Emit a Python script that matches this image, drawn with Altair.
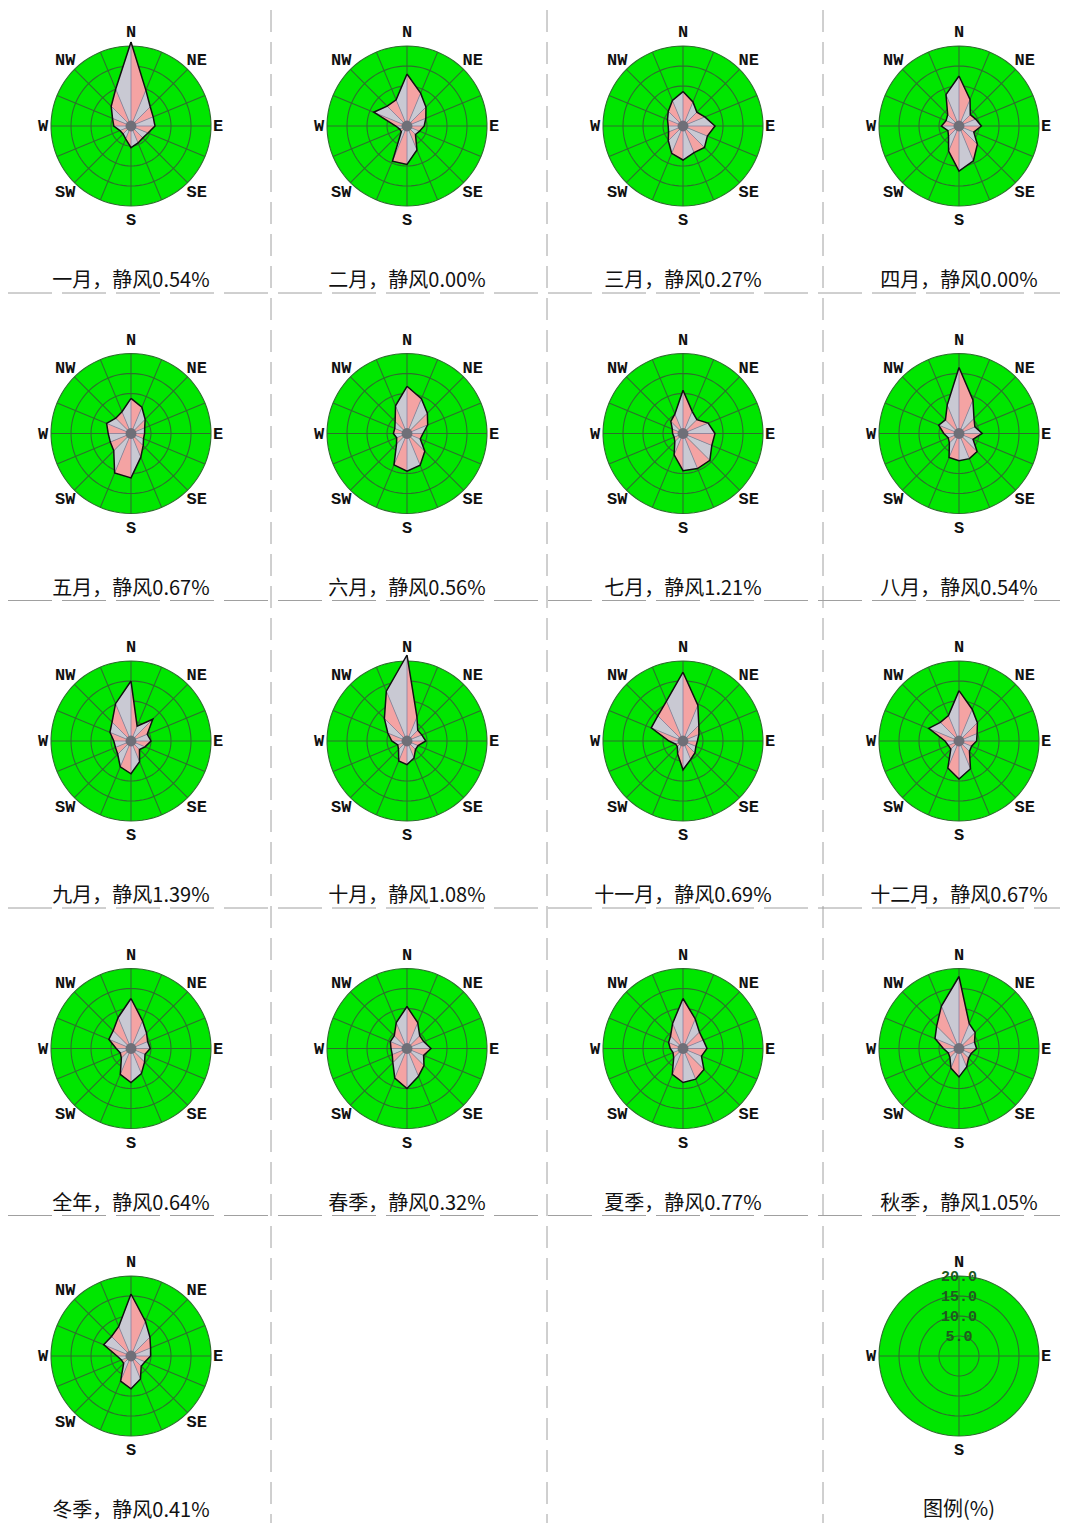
import math
import altair as alt
import pandas as pd

# ---------------- data ----------------
DIRECTIONS = ["N", "NNE", "NE", "ENE", "E", "ESE", "SE", "SSE",
              "S", "SSW", "SW", "WSW", "W", "WNW", "NW", "NNW"]
PERIODS = ["一月", "二月", "三月", "四月", "五月", "六月", "七月", "八月",
           "九月", "十月", "十一月", "十二月", "全年", "春季", "夏季", "秋季", "冬季"]
CALM_PCT = [0.54, 0.00, 0.27, 0.00, 0.67, 0.56, 1.21, 0.54,
            1.39, 1.08, 0.69, 0.67, 0.64, 0.32, 0.77, 1.05, 0.41]

# wind direction frequency (%) for the 16 directions, N clockwise
JAN = [21.0, 9.7, 6.8, 6.0, 6.0, 4.6, 4.2, 4.6, 5.4, 3.5, 2.8, 3.0, 4.3, 5.0, 7.0, 10.0]
FEB = [13.0, 8.9, 6.7, 5.1, 4.3, 3.4, 3.0, 6.5, 9.6, 9.5, 2.0, 2.0, 2.8, 9.0, 7.0, 7.1]
MAR = [8.6, 6.5, 4.9, 5.9, 8.0, 6.6, 7.6, 7.2, 8.5, 7.4, 5.2, 3.9, 3.7, 4.2, 5.2, 6.9]
APR = [12.5, 7.2, 4.0, 4.5, 5.6, 4.0, 6.5, 9.4, 11.3, 6.8, 3.7, 3.0, 4.4, 3.5, 4.0, 8.5]
MAY = [8.8, 7.1, 5.0, 3.7, 3.4, 3.4, 4.3, 6.4, 11.1, 10.7, 6.1, 5.6, 5.7, 6.6, 5.4, 5.9]
JUN = [11.8, 9.4, 7.2, 5.6, 4.0, 3.6, 6.3, 8.6, 9.4, 8.5, 3.7, 2.8, 3.4, 3.3, 4.2, 7.5]
JUL = [10.8, 6.0, 4.9, 6.8, 8.0, 7.8, 9.5, 9.5, 9.3, 5.8, 2.9, 2.4, 2.6, 2.9, 4.3, 5.3]
AUG = [16.5, 9.1, 5.3, 4.3, 5.8, 3.8, 6.4, 6.8, 6.8, 6.5, 3.4, 2.9, 3.8, 5.5, 4.8, 7.7]
SEP = [15.0, 4.0, 7.7, 4.4, 5.0, 3.8, 3.0, 5.6, 8.2, 7.0, 4.7, 4.2, 4.3, 5.7, 6.7, 10.1]
OCT = [21.5, 6.5, 3.8, 4.0, 4.7, 3.0, 3.0, 4.6, 5.9, 5.4, 3.0, 2.5, 3.8, 5.2, 8.0, 13.5]
NOV = [17.2, 9.7, 5.6, 4.3, 3.6, 3.5, 4.2, 5.0, 7.2, 3.5, 2.0, 2.0, 3.5, 8.6, 8.9, 10.8]
DEC = [12.6, 8.6, 6.5, 4.9, 4.4, 3.4, 3.7, 7.5, 9.5, 7.3, 2.9, 2.9, 3.5, 8.2, 6.6, 6.9]
YEAR = [12.5, 7.5, 5.5, 4.5, 4.8, 3.8, 4.8, 6.8, 8.5, 7.0, 3.4, 2.9, 3.7, 6.0, 6.3, 8.4]
SPRING = [10.5, 7.0, 4.5, 4.5, 6.0, 4.5, 6.0, 7.5, 10.0, 8.0, 5.0, 4.0, 4.0, 4.5, 4.5, 7.0]
SUMMER = [12.5, 8.0, 5.8, 5.5, 6.0, 5.0, 7.4, 8.3, 8.5, 7.0, 3.3, 2.7, 3.2, 3.9, 4.4, 6.8]
AUTUMN = [18.0, 6.7, 5.7, 4.2, 4.4, 3.3, 3.4, 5.0, 7.1, 5.3, 3.2, 2.9, 3.9, 6.5, 7.9, 11.5]
WINTER = [15.5, 9.4, 6.7, 5.3, 4.9, 3.8, 3.6, 6.2, 8.2, 6.8, 2.6, 2.6, 3.5, 7.4, 6.9, 8.0]
FREQ = [JAN, FEB, MAR, APR, MAY, JUN, JUL, AUG, SEP, OCT, NOV, DEC,
        YEAR, SPRING, SUMMER, AUTUMN, WINTER]

RINGS_PCT = [5.0, 10.0, 15.0, 20.0]
LEGEND_TITLE = "图例(%)"
COMPASS = ["N", "NE", "E", "SE", "S", "SW", "W", "NW"]
LEGEND_COMPASS = ["N", "E", "S", "W"]

# ---------------- layout / style ----------------
W, H = 1052, 1515
COL_X = [123, 399, 675, 951]
ROW_Y = [118, 425.5, 733, 1040.5, 1348]
PX = 4.0                       # pixels per percent
RMAX = RINGS_PCT[-1]
GREEN = "#00e600"
GRID = "#2e6e2e"
PINK = "#f4a3a3"
GRAY = "#c9c9d3"
LABEL_R = {"N": 94, "S": 94, "E": 87, "W": 88}

centers = [(COL_X[i % 4], ROW_Y[i // 4]) for i in range(len(PERIODS))]
legend_c = (COL_X[3], ROW_Y[4])
all_centers = centers + [legend_c]


def polar(cx, cy, pct, deg):
    a = math.radians(deg)
    r = pct * PX
    return cx + r * math.sin(a), cy - r * math.cos(a)


# green disks
disk = []
for pid, (cx, cy) in enumerate(all_centers):
    r = RMAX * PX
    for i in range(0, 181, 3):
        t = math.radians(i)
        disk.append(dict(g=pid, x=cx + r * math.cos(t),
                         y=cy - r * math.sin(t), y2=cy + r * math.sin(t)))
disk_df = pd.DataFrame(disk)

# rings
rings = []
for pid, (cx, cy) in enumerate(all_centers):
    for ring in RINGS_PCT:
        for j, deg in enumerate(range(0, 361, 4)):
            x, y = polar(cx, cy, ring, deg)
            rings.append(dict(g=f"{pid}-{ring}", o=j, x=x, y=y))
rings_df = pd.DataFrame(rings)

# spokes
spokes = []
for pid, (cx, cy) in enumerate(all_centers):
    step = 22.5 if pid < len(PERIODS) else 90
    deg = 0.0
    while deg < 180:
        x1, y1 = polar(cx, cy, RMAX, deg)
        x2, y2 = polar(cx, cy, RMAX, deg + 180)
        spokes.append(dict(x=x1, y=y1, x2=x2, y2=y2))
        deg += step
spokes_df = pd.DataFrame(spokes)

# rose triangles, outline, inner spokes
tris, outline, inner = [], [], []
for pid, (cx, cy) in enumerate(centers):
    vals = FREQ[pid]
    pts = [polar(cx, cy, v, 22.5 * k) for k, v in enumerate(vals)]
    for k in range(16):
        p, q = pts[k], pts[(k + 1) % 16]
        tri = sorted([(cx, cy), p, q], key=lambda t: t[0])
        (ax, ay), (bx, by), (ccx, ccy) = tri
        if ccx - ax == 0:
            mid = ay
        else:
            mid = ay + (ccy - ay) * (bx - ax) / (ccx - ax)
        col = PINK if k % 2 == 0 else GRAY
        tid = f"{pid}-{k}"
        tris.append(dict(g=tid, x=ax, y=ay, y2=ay, c=col))
        tris.append(dict(g=tid, x=bx, y=by, y2=mid, c=col))
        tris.append(dict(g=tid, x=ccx, y=ccy, y2=ccy, c=col))
        inner.append(dict(x=cx, y=cy, x2=p[0], y2=p[1]))
    for k in range(17):
        x, y = pts[k % 16]
        outline.append(dict(g=pid, o=k, x=x, y=y))
tris_df = pd.DataFrame(tris)
outline_df = pd.DataFrame(outline)
inner_df = pd.DataFrame(inner)
center_df = pd.DataFrame([dict(x=cx, y=cy) for cx, cy in centers])

# compass labels
labels = []
for pid, (cx, cy) in enumerate(centers):
    for i, name in enumerate(COMPASS):
        rr = LABEL_R.get(name, 93)
        x, y = polar(cx, cy, rr / PX, 45 * i)
        labels.append(dict(t=name, x=x, y=y))
for i, name in enumerate(LEGEND_COMPASS):
    rr = LABEL_R.get(name, 93)
    x, y = polar(legend_c[0], legend_c[1], rr / PX, 90 * i)
    labels.append(dict(t=name, x=x, y=y))
labels_df = pd.DataFrame(labels)

ring_lab_df = pd.DataFrame([dict(t=f"{r:.1f}", x=legend_c[0], y=legend_c[1] - r * PX)
                            for r in RINGS_PCT])

titles = [dict(t=f"{n}，静风{c:.2f}%", x=cx, y=cy + 155)
          for n, c, (cx, cy) in zip(PERIODS, CALM_PCT, centers)]
titles.append(dict(t=LEGEND_TITLE, x=legend_c[0], y=legend_c[1] + 154))
titles_df = pd.DataFrame(titles)

vlines_df = pd.DataFrame([dict(x=cx + 140, y=2, y2=H) for cx in COL_X[:3]])
hlines_df = pd.DataFrame([dict(x=0, x2=W, y=cy + 167) for cy in ROW_Y[:4]])

# ---------------- chart ----------------
xs = alt.Scale(domain=[0, W], nice=False, zero=False)
ys = alt.Scale(domain=[0, H], nice=False, zero=False, reverse=True)
X = alt.X("x:Q", scale=xs, axis=None)
Y = alt.Y("y:Q", scale=ys, axis=None, stack=None)

disk_l = alt.Chart(disk_df).mark_area(color=GREEN).encode(
    x=X, y=Y, y2="y2:Q", detail="g:N")
rings_l = alt.Chart(rings_df).mark_line(color=GRID, strokeWidth=1.1).encode(
    x=X, y=Y, detail="g:N", order="o:Q")
spokes_l = alt.Chart(spokes_df).mark_rule(color=GRID, strokeWidth=1.1).encode(
    x=X, y=Y, x2="x2:Q", y2="y2:Q")
tris_l = alt.Chart(tris_df).mark_area().encode(
    x=X, y=Y, y2="y2:Q", detail="g:N", color=alt.Color("c:N", scale=None))
inner_l = alt.Chart(inner_df).mark_rule(color="#8c7f9e", strokeWidth=0.8).encode(
    x=X, y=Y, x2="x2:Q", y2="y2:Q")
outline_l = alt.Chart(outline_df).mark_line(color="#111111", strokeWidth=1.5).encode(
    x=X, y=Y, detail="g:N", order="o:Q")
center_l = alt.Chart(center_df).mark_circle(color="#6f6f78", size=120, opacity=1).encode(
    x=X, y=Y)
labels_l = alt.Chart(labels_df).mark_text(
    font="Liberation Mono", fontSize=17, fontWeight="bold", color="#111111",
    align="center", baseline="middle").encode(x=X, y=Y, text="t:N")
ringlab_l = alt.Chart(ring_lab_df).mark_text(
    font="Liberation Mono", fontSize=15, fontWeight="bold", color="#1f5a1f",
    align="center", baseline="middle").encode(x=X, y=Y, text="t:N")
titles_l = alt.Chart(titles_df).mark_text(
    font="Noto Sans CJK SC", fontSize=20, color="#111111",
    align="center", baseline="middle").encode(x=X, y=Y, text="t:N")
vlines_l = alt.Chart(vlines_df).mark_rule(
    color="#a0a0a0", strokeWidth=1, strokeDash=[22, 10]).encode(x=X, y=Y, y2="y2:Q")
hlines_l = alt.Chart(hlines_df).mark_rule(
    color="#a0a0a0", strokeWidth=1, strokeDash=[44, 10]).encode(x=X, x2="x2:Q", y=Y)

chart = alt.layer(
    vlines_l, hlines_l, disk_l, rings_l, spokes_l, tris_l, inner_l, outline_l,
    center_l, labels_l, ringlab_l, titles_l
).properties(
    width=W, height=H, autosize=alt.AutoSizeParams(type="none"), padding=0
).configure_view(stroke=None)

chart.save("out.html", embed_options={"renderer": "svg", "actions": False})
